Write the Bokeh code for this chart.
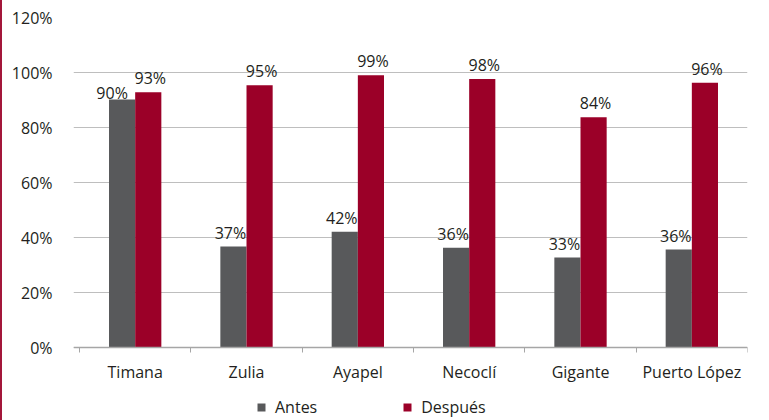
from bokeh.plotting import figure
from bokeh.models import ColumnDataSource, FixedTicker, PrintfTickFormatter, Legend, LegendItem
from bokeh.embed import file_html
from bokeh.resources import INLINE

# ---- data ----
municipios = ["Timana", "Zulia", "Ayapel", "Necoclí", "Gigante", "Puerto López"]
antes = [90.2, 36.7, 42.1, 36.3, 32.7, 35.6]
despues = [92.8, 95.4, 99.0, 97.6, 83.7, 96.3]
y_ticks = [0, 20, 40, 60, 80, 100, 120]

GREY = "#58595B"
RED = "#9B0028"
TXT = "#231F20"
FONT = "Open Sans"

n = len(municipios)
idx = list(range(n))
bw = 0.235

# frame reaches the bottom of the canvas so that the legend can sit below the x axis
p = figure(width=767, height=420, x_range=(-0.054, n), y_range=(-26.545, 120),
           output_backend="svg", toolbar_location=None,
           min_border_left=71, min_border_right=22, min_border_top=17, min_border_bottom=0)
p.styles = {"border-left": "2px solid #A3173A"}
p.outline_line_color = None
p.xgrid.grid_line_color = None
p.ygrid.grid_line_color = "#BEBEBE"
p.ygrid.grid_line_width = 1
p.background_fill_color = "white"
p.border_fill_color = "white"

src_a = ColumnDataSource(dict(x=[i + 0.5 - bw / 2 for i in idx], top=antes,
                              lab=[f"{round(v)}%" for v in antes]))
src_d = ColumnDataSource(dict(x=[i + 0.5 + bw / 2 for i in idx], top=despues,
                              lab=[f"{round(v)}%" for v in despues]))

ra = p.vbar(x="x", top="top", width=bw, source=src_a, fill_color=GREY, line_color=None)
rd = p.vbar(x="x", top="top", width=bw, source=src_d, fill_color=RED, line_color=None)

# data labels (first grey label nudged left/down as in the original to avoid overlap)
src_a.data["dx"] = [-10] + [-3] * (n - 1)
src_a.data["dy"] = [-6] + [-14] * (n - 1)
src_d.data["dx"] = [2] * n
src_d.data["dy"] = [-14] * n
for s in (src_a, src_d):
    p.text(x="x", y="top", text="lab", source=s, x_offset="dx", y_offset="dy",
           text_align="center", text_baseline="alphabetic",
           text_font={"value": FONT}, text_font_size="16px", text_color=TXT)

# y axis
p.yaxis.ticker = FixedTicker(ticks=y_ticks)
p.yaxis.formatter = PrintfTickFormatter(format="%d%%")
p.yaxis.axis_line_color = None
p.yaxis.major_tick_line_color = None
p.yaxis.minor_tick_line_color = None
p.yaxis.major_label_standoff = 15
p.yaxis.major_label_text_font = FONT
p.yaxis.major_label_text_font_size = "16px"
p.yaxis.major_label_text_color = TXT

# x axis at value 0: labels at category centres, tick marks at category boundaries
p.xaxis.fixed_location = 0
p.xaxis.ticker = FixedTicker(ticks=[i + 0.5 for i in idx], minor_ticks=list(range(n + 1)))
p.xaxis.major_label_overrides = {i + 0.5: m for i, m in zip(idx, municipios)}
p.xaxis.axis_line_color = "#A6A6A6"
p.xaxis.axis_line_width = 1.5
p.xaxis.major_tick_line_color = None
p.xaxis.major_tick_out = 0
p.xaxis.major_tick_in = 0
p.xaxis.minor_tick_line_color = "#A6A6A6"
p.xaxis.minor_tick_out = 5
p.xaxis.minor_tick_in = 0
p.xaxis.major_label_standoff = 8
p.xaxis.major_label_text_font = FONT
p.xaxis.major_label_text_font_size = "16px"
p.xaxis.major_label_text_color = TXT

legend = Legend(items=[LegendItem(label="Antes", renderers=[ra]),
                       LegendItem(label="Después", renderers=[rd])],
                orientation="horizontal", location=(183, 2),
                glyph_width=10, glyph_height=10, label_standoff=9, spacing=85,
                padding=0, margin=0, border_line_color=None, background_fill_alpha=0,
                label_text_font=FONT, label_text_font_size="16px", label_text_color=TXT)
p.add_layout(legend, "center")

open("out.html", "w").write(file_html(p, INLINE))
